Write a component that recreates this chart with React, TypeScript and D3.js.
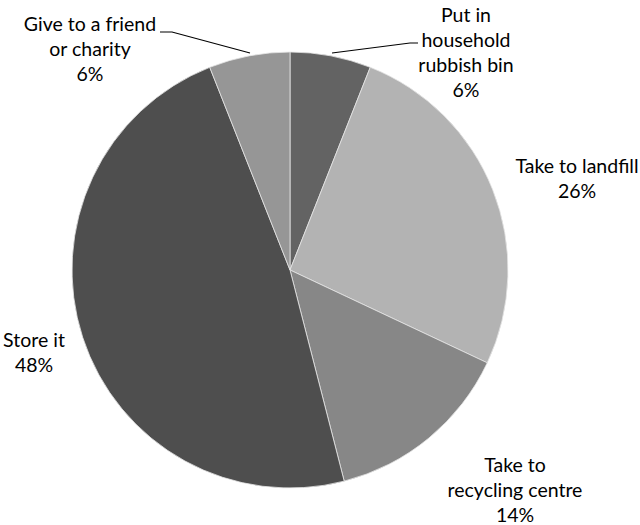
import React from "react";
import * as d3 from "d3";

const categories = ["Put in household rubbish bin", "Take to landfill", "Take to recycling centre", "Store it", "Give to a friend or charity"];
const values = [6, 26, 14, 48, 6];
const colors = ["#636363", "#b3b3b3", "#878787", "#4e4e4e", "#969696"];
const labelLines = [
  ["Put in", "household", "rubbish bin", "6%"],
  ["Take to landfill", "26%"],
  ["Take to", "recycling centre", "14%"],
  ["Store it", "48%"],
  ["Give to a friend", "or charity", "6%"],
];
const labelPos = [
  [466, 22],
  [577, 173],
  [515, 472],
  [34, 347],
  [90, 31],
];

export default function App() {
  const W = 640, H = 525;
  const cx = 290, cy = 270, r = 218;
  const pie = d3.pie<number>().sort(null).value((d) => d)(values);
  const arc = d3.arc<d3.PieArcDatum<number>>().innerRadius(0).outerRadius(r);
  const lh = 25;
  return (
    <svg width={W} height={H} style={{ position: "absolute", left: 0, top: 0 }}>
      <g transform={`translate(${cx},${cy})`}>
        {pie.map((p, i) => (
          <path key={i} d={arc(p) || ""} fill={colors[i]} stroke="#e6e6e6" strokeWidth={0.8}>
            <title>{categories[i]}</title>
          </path>
        ))}
      </g>
      <polyline points="332,53 410,43 418,43" fill="none" stroke="#000" strokeWidth={1.2} />
      <polyline points="160,32 172,32 250,53" fill="none" stroke="#000" strokeWidth={1.2} />
      {labelLines.map((lines, i) => (
        <text key={i} textAnchor="middle" fontFamily="Lato, 'Open Sans', sans-serif" fontSize={19.5} fill="#000">
          {lines.map((t, j) => (
            <tspan key={j} x={labelPos[i][0]} y={labelPos[i][1] + j * lh}>{t}</tspan>
          ))}
        </text>
      ))}
    </svg>
  );
}
